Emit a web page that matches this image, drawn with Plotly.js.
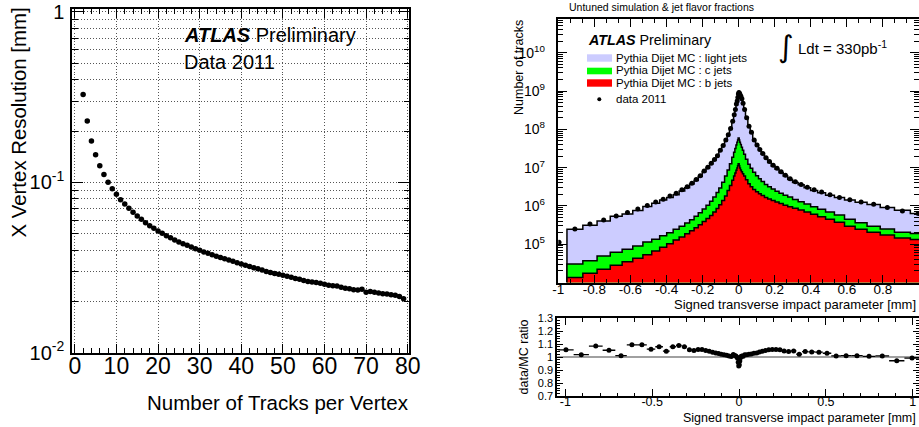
<!DOCTYPE html>
<html><head><meta charset="utf-8">
<script src="https://cdn.plot.ly/plotly-3.0.1.min.js"></script>
<style>html,body{margin:0;padding:0;background:#fff;}#chart{width:919px;height:427px;}</style>
</head><body><div id="chart"></div>
<script>
// ---------- Left panel: X vertex resolution vs number of tracks ----------
const nTracks = [2,3,4,5,6,7,8,9,10,11,12,13,14,15,16,17,18,19,20,21,22,23,24,25,26,27,28,29,30,31,32,33,34,35,36,37,38,39,40,41,42,43,44,45,46,47,48,49,50,51,52,53,54,55,56,57,58,59,60,61,62,63,64,65,66,67,68,69,70,71,72,73,74,75,76,77,78,79];
const xVertexRes = [0.328,0.229,0.175,0.145,0.125,0.111,0.100,0.0917,0.0850,0.0790,0.0746,0.0704,0.0667,0.0634,0.0607,0.0579,0.0556,0.0537,0.0518,0.0502,0.0486,0.0473,0.0459,0.0446,0.0436,0.0427,0.0417,0.0408,0.0399,0.0390,0.0383,0.0376,0.0368,0.0362,0.0356,0.0350,0.0344,0.0337,0.0332,0.0326,0.0321,0.0315,0.0311,0.0306,0.0300,0.0296,0.0292,0.0289,0.0285,0.0281,0.0277,0.0273,0.0270,0.0265,0.0262,0.0260,0.0258,0.0256,0.0252,0.0249,0.0247,0.0246,0.0242,0.0239,0.0237,0.0234,0.0233,0.0236,0.0226,0.0229,0.0226,0.0224,0.0222,0.0221,0.0219,0.0217,0.0214,0.0207];

// ---------- Right panel: signed transverse impact parameter ----------
const binEdges = [-1.04,-0.952,-0.864,-0.785,-0.712,-0.646,-0.587,-0.531,-0.482,-0.438,-0.399,-0.363,-0.330,-0.299,-0.272,-0.247,-0.224,-0.202,-0.181,-0.161,-0.143,-0.125,-0.110,-0.094,-0.078,-0.064,-0.051,-0.038,-0.028,-0.021,-0.015,-0.010,-0.006,-0.003,0,0.003,0.006,0.010,0.015,0.021,0.028,0.038,0.051,0.064,0.078,0.094,0.110,0.125,0.143,0.161,0.181,0.202,0.224,0.247,0.272,0.299,0.330,0.363,0.399,0.438,0.482,0.531,0.587,0.646,0.712,0.785,0.864,0.952,1.04];
const data2011 = [1.12e5,2.51e5,3.39e5,4.27e5,5.43e5,6.76e5,8.32e5,1.02e6,1.26e6,1.50e6,1.80e6,2.14e6,2.63e6,3.16e6,3.89e6,4.90e6,6.17e6,8.13e6,1.02e7,1.29e7,1.62e7,2.04e7,2.82e7,3.80e7,5.25e7,7.24e7,1.05e8,1.62e8,2.40e8,3.31e8,4.57e8,5.50e8,6.76e8,8.32e8,
 9.12e8,8.71e8,7.94e8,7.24e8,6.31e8,4.79e8,3.31e8,2.00e8,1.20e8,8.32e7,5.25e7,3.89e7,2.95e7,2.34e7,1.82e7,1.45e7,1.15e7,9.55e6,7.76e6,6.31e6,5.13e6,4.27e6,3.63e6,3.09e6,2.63e6,2.29e6,1.95e6,1.66e6,1.45e6,1.26e6,1.10e6,9.12e5,7.41e5,6.31e5];
const lightJets = [7.82e4,2.16e5,2.76e5,3.57e5,4.76e5,5.44e5,6.71e5,8.51e5,1.03e6,1.27e6,1.47e6,1.72e6,2.14e6,2.64e6,3.27e6,4.09e6,5.17e6,6.91e6,8.74e6,1.11e7,1.40e7,1.77e7,2.46e7,3.32e7,4.57e7,6.32e7,9.18e7,1.40e8,2.12e8,2.97e8,4.18e8,5.09e8,6.52e8,8.36e8,
 9.11e8,8.46e8,7.52e8,6.81e8,5.92e8,4.48e8,3.03e8,1.79e8,1.055e8,7.17e7,4.34e7,3.16e7,2.33e7,1.81e7,1.37e7,1.05e7,8.11e6,6.63e6,5.22e6,4.12e6,3.22e6,2.59e6,2.27e6,1.84e6,1.57e6,1.40e6,1.21e6,1.07e6,9.85e5,8.84e5,7.96e5,6.55e5,5.60e5,4.47e5];
const cJets = [1.56e4,1.69e4,1.98e4,2.69e4,3.36e4,3.92e4,4.63e4,6.16e4,6.85e4,8.32e4,9.65e4,1.17e5,1.40e5,1.69e5,2.13e5,2.68e5,3.37e5,4.43e5,5.79e5,7.56e5,1.01e6,1.39e6,1.88e6,2.79e6,4.21e6,6.20e6,9.20e6,1.39e7,1.91e7,2.44e7,3.04e7,3.59e7,4.13e7,4.63e7,
 4.63e7,4.13e7,3.59e7,3.11e7,2.61e7,2.13e7,1.64e7,1.18e7,8.50e6,6.39e6,4.89e6,3.82e6,3.04e6,2.50e6,1.97e6,1.65e6,1.37e6,1.14e6,9.90e5,8.58e5,7.43e5,6.08e5,5.12e5,4.30e5,3.52e5,2.88e5,2.45e5,2.04e5,1.52e5,1.18e5,9.09e4,7.74e4,5.97e4,5.87e4];
const bJets = [1.26e4,1.36e4,1.74e4,2.21e4,2.81e4,3.49e4,4.28e4,5.32e4,6.64e4,8.28e4,1.03e5,1.285e5,1.549e5,1.862e5,2.239e5,2.692e5,3.236e5,3.89e5,4.677e5,5.623e5,6.918e5,8.511e5,1.072e6,1.38e6,1.82e6,2.512e6,3.388e6,4.677e6,6.026e6,7.244e6,8.511e6,9.772e6,1.122e7,1.259e7,
 1.259e7,1.122e7,9.77e6,8.71e6,7.762e6,6.918e6,6.026e6,4.786e6,3.802e6,3.162e6,2.692e6,2.344e6,2.089e6,1.862e6,1.66e6,1.514e6,1.38e6,1.259e6,1.148e6,1.047e6,9.55e5,8.71e5,7.762e5,6.918e5,6.026e5,5.248e5,4.467e5,3.715e5,2.951e5,2.455e5,2.042e5,1.738e5,1.445e5,1.318e5];
const dataMCRatio = [1.055,1.018,1.084,1.052,1.010,1.094,1.094,1.060,1.079,1.045,1.079,1.089,1.079,1.055,1.050,1.058,1.057,1.050,1.045,1.037,1.030,1.026,1.022,1.018,1.014,1.008,1.003,1.020,1.012,1.008,1.000,0.990,0.960,0.930,
 0.940,0.970,0.995,1.005,1.008,1.005,1.018,1.018,1.021,1.024,1.029,1.031,1.039,1.045,1.050,1.055,1.058,1.058,1.055,1.047,1.042,1.047,1.021,1.042,1.039,1.037,1.029,1.008,1.010,1.010,1.005,1.008,0.971,0.992];

// ---------- helpers ----------
const W = 919, H = 427;
const FONT = 'Liberation Sans, Arial, Helvetica, sans-serif';
const px = v => v / W;
const py = v => 1 - v / H;
function ann(text, x, y, size, xanchor, extra) {
  return Object.assign({xref:'paper', yref:'paper', x:px(x), y:py(y), text:text, showarrow:false,
    xanchor:xanchor || 'left', yanchor:'middle', font:{family:FONT, size:size, color:'#000'}}, extra || {});
}
const nb = data2011.length;
const centers = [], halfW = [];
for (let i = 0; i < nb; i++) { centers.push((binEdges[i] + binEdges[i+1]) / 2); halfW.push((binEdges[i+1] - binEdges[i]) / 2); }
const stackB = bJets.slice();
const stackBC = bJets.map((v, i) => v + cJets[i]);
const stackAll = stackBC.map((v, i) => v + lightJets[i]);
const mainXmin = -1, mainYmin = 1e4;
function stepTrace(vals, fill) {
  const xs = [], ys = [];
  let first = true;
  for (let i = 0; i < nb; i++) {
    if (binEdges[i] < mainXmin) continue;
    if (first) { xs.push(binEdges[i]); ys.push(mainYmin); first = false; }
    xs.push(binEdges[i]); ys.push(vals[i]);
  }
  xs.push(binEdges[nb]); ys.push(vals[nb-1]);
  xs.push(binEdges[nb]); ys.push(mainYmin);
  return {type:'scatter', mode:'lines', x:xs, y:ys, xaxis:'x2', yaxis:'y2', line:{shape:'hv', color:'#000', width:1.5},
    fill:'tozeroy', fillcolor:fill, hoverinfo:'skip'};
}

const traces = [
  {type:'scatter', mode:'markers', x:nTracks, y:xVertexRes, xaxis:'x', yaxis:'y', marker:{color:'#000', size:5.5}},
  stepTrace(stackAll, '#ccccff'),
  stepTrace(stackBC, '#00ff00'),
  stepTrace(stackB, '#ff0000'),
  {type:'scatter', mode:'markers', x:centers, y:data2011, xaxis:'x2', yaxis:'y2', marker:{color:'#000', size:5}},
  {type:'scatter', mode:'markers', x:centers, y:dataMCRatio, xaxis:'x3', yaxis:'y3', marker:{color:'#000', size:5},
    error_x:{type:'data', array:halfW, color:'#000', thickness:1.3, width:0}}
];

// minor tick positions
const logMinorL = []; for (let d = -2; d <= -1; d++) for (let m = 2; m <= 9; m++) logMinorL.push(m * Math.pow(10, d));
const logMinorR = []; for (let d = 4; d <= 10; d++) for (let m = 2; m <= 9; m++) logMinorR.push(m * Math.pow(10, d));
const decadesR = [1e5,1e6,1e7,1e8,1e9,1e10];

const tickBase = {ticks:'inside', tickcolor:'#000', showline:true, linecolor:'#000', mirror:'ticks', zeroline:false, showgrid:false};
const GRID = {showgrid:true, gridcolor:'#555', griddash:'1px,2px', gridwidth:1};

const layout = {
  width:W, height:H, margin:{l:0, r:0, t:0, b:0}, showlegend:false,
  paper_bgcolor:'#fff', plot_bgcolor:'#fff', font:{family:FONT, color:'#000'},
  xaxis: Object.assign({}, tickBase, GRID, {domain:[px(72.3), px(409)], anchor:'y', range:[-0.6, 80.3],
    tickmode:'linear', tick0:0, dtick:10, ticklen:9, tickwidth:1, linewidth:2,
    tickfont:{size:23, family:FONT}, ticklabelstandoff:-8,
    minor:{tickmode:'linear', tick0:0, dtick:2, ticks:'inside', ticklen:5, tickcolor:'#000', showgrid:false}}),
  yaxis: Object.assign({}, tickBase, GRID, {domain:[py(352.7), py(8.5)], anchor:'x', type:'log', range:[-2, 0.02],
    tickmode:'array', tickvals:[0.01, 0.1, 1], ticktext:['10<sup>-2</sup>','10<sup>-1</sup>','1'],
    ticklen:11, linewidth:2, tickfont:{size:20, family:FONT}, ticklabelstandoff:2,
    minor:Object.assign({tickmode:'array', tickvals:logMinorL, ticks:'inside', ticklen:5.5, tickcolor:'#000'}, GRID)}),
  xaxis2: Object.assign({}, tickBase, {domain:[px(558.3), 1], anchor:'y2', range:[-1, 1],
    tickmode:'array', tickvals:[-1,-0.8,-0.6,-0.4,-0.2,0,0.2,0.4,0.6,0.8,1],
    ticktext:['-1','-0.8','-0.6','-0.4','-0.2','0','0.2','0.4','0.6','0.8','1'],
    ticklen:8, linewidth:2.5, tickfont:{size:13.5, family:FONT}, ticklabelstandoff:-7,
    minor:{tickmode:'linear', tick0:0, dtick:0.2/3, ticks:'inside', ticklen:4, tickcolor:'#000'}}),
  yaxis2: Object.assign({}, tickBase, {domain:[py(282.5), py(19)], anchor:'x2', type:'log', range:[4, 10.88],
    tickmode:'array', tickvals:decadesR, ticktext:decadesR.map(v => '10<sup>' + Math.round(Math.log10(v)) + '</sup>'),
    ticklen:9, linewidth:2.5, tickfont:{size:14, family:FONT}, ticklabelstandoff:8,
    minor:{tickmode:'array', tickvals:logMinorR, ticks:'inside', ticklen:5, tickcolor:'#000'}}),
  xaxis3: Object.assign({}, tickBase, {domain:[px(557.3), 1], anchor:'y3', range:[-1.046, 1.036],
    tickmode:'array', tickvals:[-1,-0.5,0,0.5,1], ticktext:['-1','-0.5','0','0.5','1'],
    ticklen:7, linewidth:2, tickfont:{size:12.5, family:FONT}, ticklabelstandoff:-7,
    minor:{tickmode:'linear', tick0:0, dtick:0.1, ticks:'inside', ticklen:3.5, tickcolor:'#000'}}),
  yaxis3: Object.assign({}, tickBase, {domain:[py(396), py(318)], anchor:'x3', range:[0.7, 1.3],
    tickmode:'array', tickvals:[0.7,0.8,0.9,1,1.1,1.2,1.3], ticktext:['0.7','0.8','0.9','1','1.1','1.2','1.3'],
    ticklen:6, linewidth:2, tickfont:{size:11, family:FONT}, ticklabelstandoff:0,
    minor:{tickmode:'linear', tick0:0.7, dtick:0.02, ticks:'inside', ticklen:3, tickcolor:'#000'}}),
  shapes: [
    {type:'line', xref:'x3 domain', yref:'y3', x0:0, x1:1, y0:1, y1:1, line:{color:'#808080', width:1.5}, layer:'below'},
    // legend swatches (right panel)
    {type:'rect', xref:'paper', yref:'paper', x0:px(587), x1:px(612), y0:py(61.7), y1:py(54.3), fillcolor:'#ccccff', line:{width:0}},
    {type:'rect', xref:'paper', yref:'paper', x0:px(587), x1:px(612), y0:py(74.3), y1:py(67.7), fillcolor:'#00ff00', line:{width:0}},
    {type:'rect', xref:'paper', yref:'paper', x0:px(587), x1:px(612), y0:py(86.7), y1:py(79.3), fillcolor:'#ff0000', line:{width:0}},
    {type:'circle', xref:'paper', yref:'paper', x0:px(597.3), x1:px(601.3), y0:py(101.3), y1:py(97.3), fillcolor:'#000', line:{width:0}}
  ],
  annotations: [
    // left panel
    ann('<b><i>ATLAS</i></b> Preliminary', 182, 35, 20, 'left'),
    ann('Data 2011', 182, 62, 20, 'left'),
    ann('X Vertex Resolution [mm]', 18, 122.5, 20.4, 'center', {textangle:-90}),
    ann('Number of Tracks per Vertex', 411, 402, 20.5, 'right'),
    // right panel
    ann('Untuned simulation &amp; jet flavor fractions', 567, 7, 10.5, 'left'),
    ann('Number of tracks', 518.5, 67.5, 12.5, 'center', {textangle:-90}),
    ann('<b><i>ATLAS</i></b> Preliminary', 586, 40, 14.3, 'left'),
    ann('Pythia Dijet MC : light jets', 614, 57.7, 11.5, 'left'),
    ann('Pythia Dijet MC : c jets', 614, 70.2, 11.5, 'left'),
    ann('Pythia Dijet MC : b jets', 614, 82.5, 11.5, 'left'),
    ann('data 2011', 614, 99.3, 11.5, 'left'),
    ann('\u222B', 786, 46, 34, 'center', {font:{family:'DejaVu Sans', size:30, color:'#000'}}),
    ann('Ldt = 330pb<sup>-1</sup>', 796, 47, 15, 'left'),
    ann('Signed transverse impact parameter [mm]', 918, 304, 13, 'right'),
    ann('data/MC ratio', 523, 357.5, 12.5, 'center', {textangle:-90}),
    ann('Signed transverse impact parameter [mm]', 918, 418, 12.5, 'right')
  ]
};

Plotly.newPlot('chart', traces, layout, {staticPlot:true, displayModeBar:false});
</script>
</body></html>
